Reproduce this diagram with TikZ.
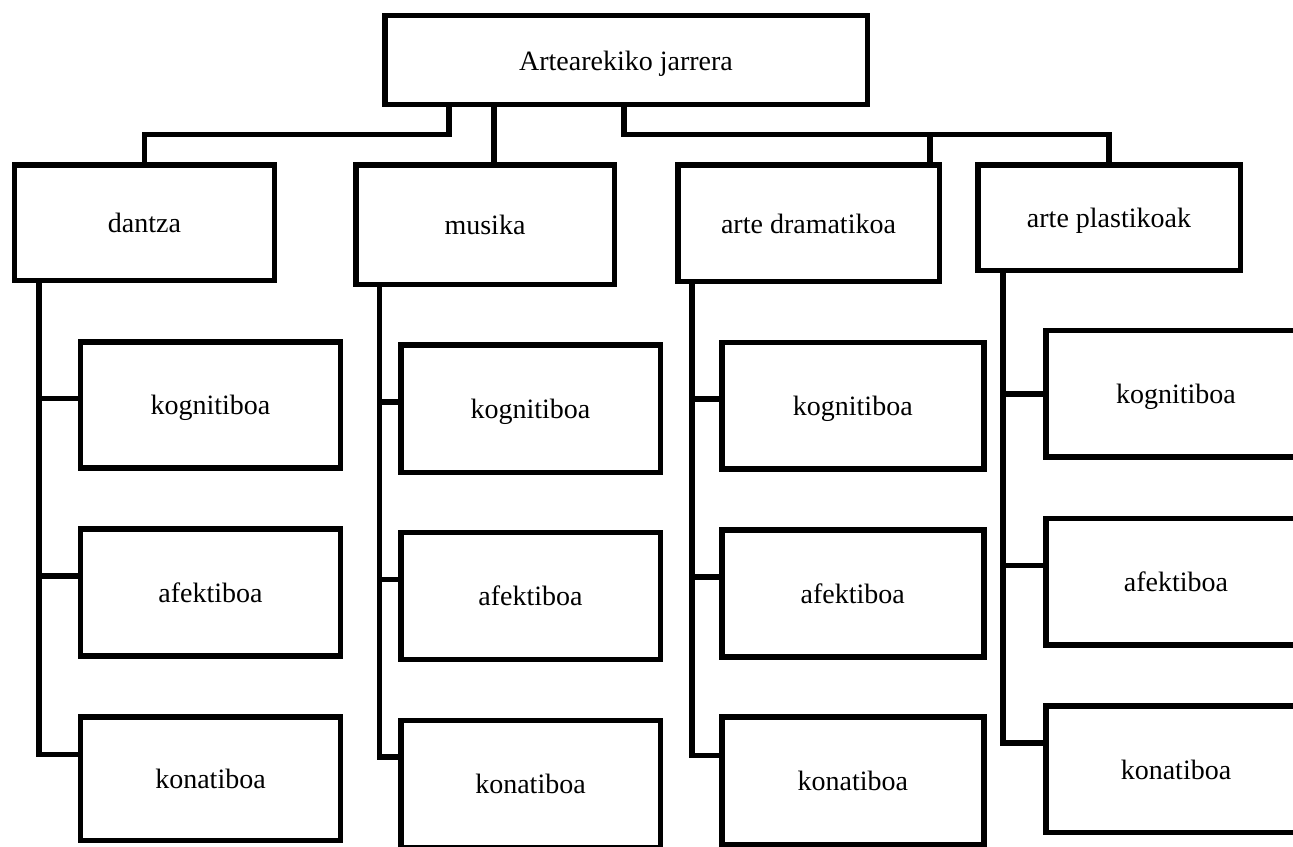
\documentclass[tikz,border=0pt]{standalone}
\usepackage{fontspec}
\setmainfont{Liberation Serif}
\begin{document}
\begin{tikzpicture}[x=1bp,y=-1bp,
  box/.style={draw=black, line width=5.5bp, fill=white, inner sep=0pt, font=\fontsize{28bp}{32bp}\selectfont, text height=20bp, text depth=0bp},
  conn/.style={draw=black, line width=5.5bp}]
\useasboundingbox (0,0) rectangle (1293,847);
\clip (0,0) rectangle (1293,847);
% level 0 and 1
\node[box, minimum width=482.5bp, minimum height=89bp] (root) at (626,60) {Artearekiko jarrera};
\node[box, minimum width=259.5bp, minimum height=115.5bp] (dantza) at (144.5,222.5) {dantza};
\node[box, minimum width=258.5bp, minimum height=119.5bp] (musika) at (485,224.5) {musika};
\node[box, minimum width=261.5bp, minimum height=116.5bp] (dram) at (808.5,223) {arte dramatikoa};
\node[box, minimum width=262.5bp, minimum height=105.5bp] (plast) at (1109,217.5) {arte plastikoak};
% dantza children
\node[box, minimum width=259.5bp, minimum height=126bp] (dkog) at (210.5,404.8) {kognitiboa};
\node[box, minimum width=259.5bp, minimum height=127bp] (dafe) at (210.5,592.3) {afektiboa};
\node[box, minimum width=259.5bp, minimum height=123.5bp] (dkon) at (210.5,778.5) {konatiboa};
% musika children
\node[box, minimum width=259.5bp, minimum height=127.5bp] (mkog) at (530.5,408.5) {kognitiboa};
\node[box, minimum width=259.5bp, minimum height=127bp] (mafe) at (530.5,595.8) {afektiboa};
\node[box, minimum width=259.5bp, minimum height=127bp] (mkon) at (530.5,783.8) {konatiboa};
% dramatikoa children
\node[box, minimum width=262bp, minimum height=126.5bp] (akog) at (852.8,405.7) {kognitiboa};
\node[box, minimum width=262bp, minimum height=127bp] (aafe) at (852.8,593.4) {afektiboa};
\node[box, minimum width=262bp, minimum height=127.5bp] (akon) at (852.8,780.5) {konatiboa};
% plastikoak children
\node[box, minimum width=260.5bp, minimum height=126.5bp] (pkog) at (1176,393.7) {kognitiboa};
\node[box, minimum width=260.5bp, minimum height=126.5bp] (pafe) at (1176,581.8) {afektiboa};
\node[box, minimum width=260.5bp, minimum height=126.5bp] (pkon) at (1176,769) {konatiboa};
% junction coordinates
\coordinate (jl) at (449,134.5);
\coordinate (jm) at (494,134.5);
\coordinate (jr) at (624,134.5);
\coordinate (jd) at (930,134.5);
% top connectors
\draw[conn] (root.south -| jl) -- (jl) -- (jl -| dantza.north) -- (dantza.north);
\draw[conn] (root.south -| jm) -- (musika.north -| jm);
\draw[conn] (root.south -| jr) -- (jr) -- (jr -| plast.north) -- (plast.north);
\draw[conn] (jd) -- (dram.north -| jd);
% spines
\coordinate (sd) at (39,754.5);
\coordinate (sm) at (379.5,757);
\coordinate (sa) at (692,755.6);
\coordinate (sp) at (1003,743);
\draw[conn] (dantza.south -| sd) -- (sd) -- (sd -| dkon.west);
\draw[conn] (sd |- 0,398.6) -- (dkog.west |- 0,398.6);
\draw[conn] (sd |- 0,576) -- (dafe.west |- 0,576);
\draw[conn] (musika.south -| sm) -- (sm) -- (sm -| mkon.west);
\draw[conn] (sm |- 0,402) -- (mkog.west |- 0,402);
\draw[conn] (sm |- 0,579.5) -- (mafe.west |- 0,579.5);
\draw[conn] (dram.south -| sa) -- (sa) -- (sa -| akon.west);
\draw[conn] (sa |- 0,399) -- (akog.west |- 0,399);
\draw[conn] (sa |- 0,577) -- (aafe.west |- 0,577);
\draw[conn] (plast.south -| sp) -- (sp) -- (sp -| pkon.west);
\draw[conn] (sp |- 0,394) -- (pkog.west |- 0,394);
\draw[conn] (sp |- 0,565.7) -- (pafe.west |- 0,565.7);
\end{tikzpicture}
\end{document}
